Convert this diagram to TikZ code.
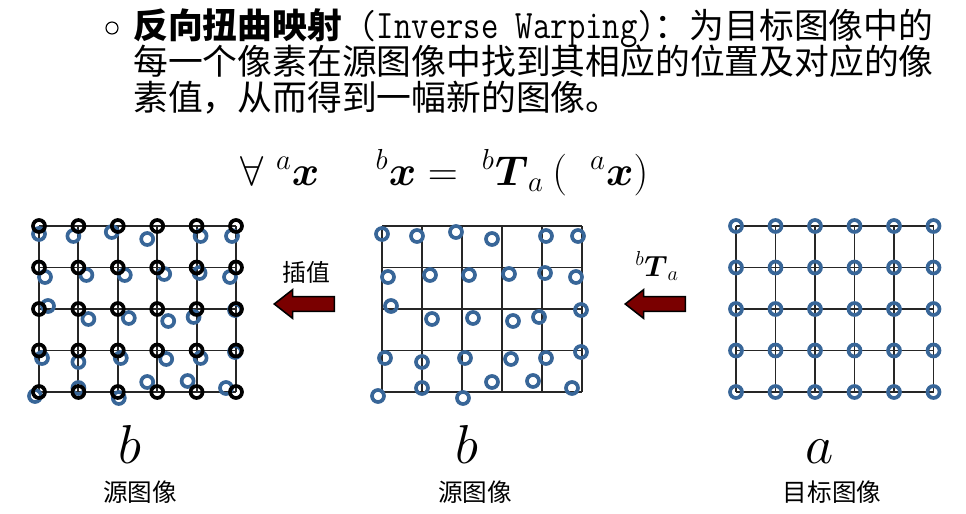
\documentclass[tikz,border=0pt]{standalone}
\usepackage{amsmath,amssymb,mathtools}
\usepackage{graphicx}
\usepackage{fontspec}
\newfontfamily\cjk{Noto Sans CJK SC}
\usepackage{tikz}
\usetikzlibrary{shapes.arrows}
\usepackage{xcolor}
\definecolor{ringblue}{RGB}{56,102,152}
\definecolor{arrowred}{RGB}{122,0,0}

% where each sampled pixel lands: col/row/dx/dy (px)
\newcommand{\ringshift}{0/0/0/8, 1/0/-5/10, 2/0/-6/6, 3/0/-10/13, 4/0/4/10, 5/0/-4/10,
	0/1/6/9.5, 1/1/8/7.5, 2/1/7/7.5, 3/1/7/6.5, 4/1/3/5.5, 5/1/-6/9.5,
	0/2/9/-3, 1/2/10/10, 2/2/11/9, 3/2/11/12, 4/2/-3/8, 5/2/-1/1,
	0/3/3/7.5, 1/3/0/11.5, 2/3/3/7.5, 3/3/9/8.5, 4/3/4/7.5, 5/3/-1/1.5,
	0/4/-4/4, 1/4/0/-4, 2/4/1/6, 3/4/-10/-10, 4/4/-9/-11, 5/4/-10/-4}

\tikzset{
	gridline/.style={line width=1.4pt, black!85},
	bluering/.style={line width=2.6pt, ringblue},
	blackring/.style={line width=2.6pt, black},
	blockarrow/.style={single arrow, shape border rotate=180, draw=black,
		fill=arrowred, line width=1.1pt, minimum height=1.5cm,
		minimum width=0.72cm, inner xsep=0pt, inner ysep=0.16cm,
		single arrow head extend=0.17cm, single arrow tip angle=76},
}

\begin{document}
\begin{tikzpicture}[x=0.025cm, y=-0.025cm]
		\useasboundingbox (0,0) rectangle (966,513);
		
		% Bullet and explanation
		\node[circle, draw, line width=0.8pt, inner sep=0pt, minimum size=0.3cm] (bullet) at (112,28) {};
		\node[anchor=base west, inner sep=0pt, font=\cjk\fontsize{24.75}{30}\selectfont] (lineone) at (133,38)
		{{\bfseries 反向扭曲映射}\smash[b]{\scalebox{1}[1.2]{\ttfamily\fontsize{24}{30}\selectfont\ (Inverse Warping)}}：为目标图像中的};
		\node[anchor=base west, inner sep=0pt, font=\cjk\fontsize{24.75}{30}\selectfont] (linetwo) at (133,74.5)
		{每一个像素在源图像中找到其相应的位置及对应的像};
		\node[anchor=base west, inner sep=0pt, font=\cjk\fontsize{24.75}{30}\selectfont] (linethree) at (133,110)
		{素值，从而得到一幅新的图像。};
		
		% Mapping formula
		\node[anchor=base west, inner sep=0pt, font=\fontsize{20.74}{25}\selectfont] (formula) at (240,185)
		{\scalebox{1.43}{$\forall\ {}^{a}\boldsymbol{x}\hspace{1.35em}{}^{b}\boldsymbol{x}=\hspace{0.3em}{}^{b}\boldsymbol{T}_{a}\hspace{0.2em}(\hspace{0.55em}{}^{a}\boldsymbol{x})$}};
		
		% Grids (left, middle, right)
		\foreach \ox/\dx in {39/39.4, 382/40, 736/39.5}{
			\foreach \i in {0,...,5}
			\draw[gridline] (\ox+\i*\dx,226) -- (\ox+\i*\dx,392);
			\foreach \j in {0,...,4}
			\draw[gridline] (\ox,226+\j*41.5) -- (\ox+5*\dx,226+\j*41.5);
		}
		
		% Displaced samples in the source image
		\foreach \ox/\dx in {39/39.4, 382/40}{
			\foreach \i/\j/\u/\v in \ringshift
			\draw[bluering] (\ox+\i*\dx+\u,226+\j*41.5+\v) circle (0.15cm);
		}
		
		% Regular pixels: source (black), target (blue)
		\foreach \i in {0,...,5}{
			\foreach \j in {0,...,4}{
				\draw[blackring] (39+\i*39.4,226+\j*41.5) circle (0.15cm);
				\draw[bluering] (736+\i*39.5,226+\j*41.5) circle (0.15cm);
			}
		}
		
		% Arrows
		\node[blockarrow] (interparrow) at (309,304) {};
		\node[font=\cjk\fontsize{17}{20}\selectfont] (interplabel) at (306,272) {插值};
		\node[blockarrow] (warparrow) at (660,304) {};
		\node[font=\fontsize{20.74}{25}\selectfont] (warplabel) at (657,266) {$^{b}\boldsymbol{T}_{a}$};
		
		% Captions
		\node[anchor=base, inner sep=0pt, font=\fontsize{20.74}{25}\selectfont] (leftname) at (130,463) {\scalebox{1.88}{$b$}};
		\node[font=\cjk\fontsize{17.5}{20}\selectfont] (leftcap) at (140,492) {源图像};
		\node[anchor=base, inner sep=0pt, font=\fontsize{20.74}{25}\selectfont] (midname) at (467,463) {\scalebox{1.88}{$b$}};
		\node[font=\cjk\fontsize{17.5}{20}\selectfont] (midcap) at (475,492) {源图像};
		\node[anchor=base, inner sep=0pt, font=\fontsize{20.74}{25}\selectfont] (rightname) at (820,463) {\scalebox{1.88}{$a$}};
		\node[font=\cjk\fontsize{17.5}{20}\selectfont] (rightcap) at (832,492) {目标图像};
	\end{tikzpicture}
\end{document}
